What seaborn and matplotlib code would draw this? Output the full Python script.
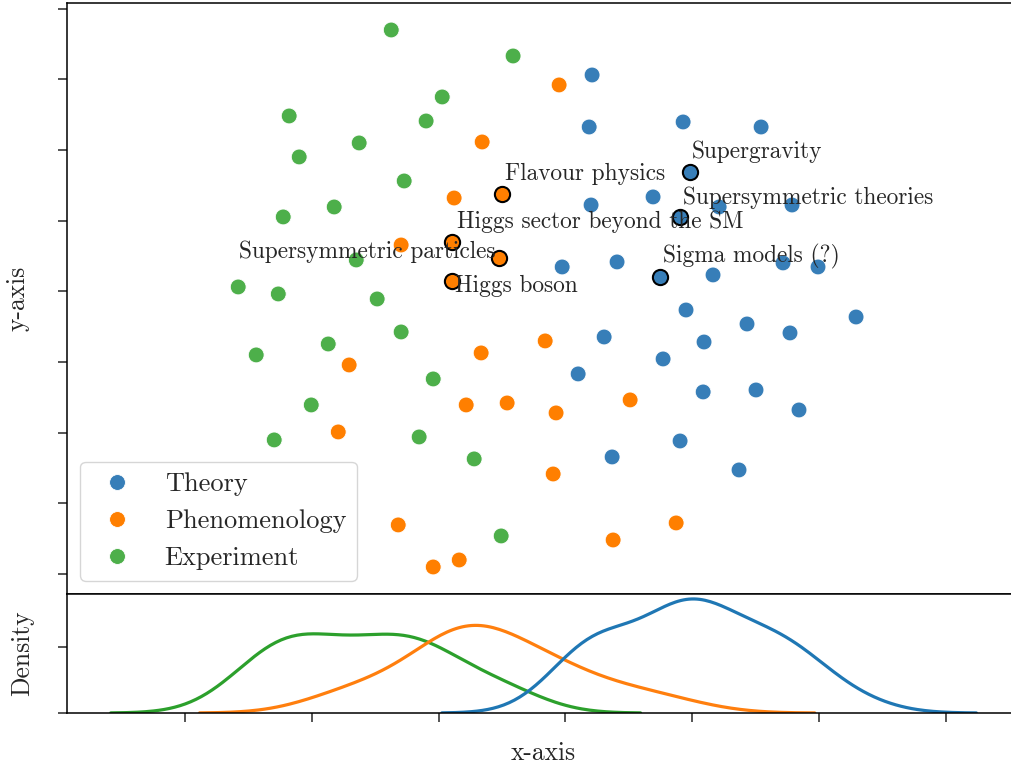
import numpy as np
import pandas as pd
import matplotlib.pyplot as plt
import seaborn as sns

# categories and point positions
categories = ["Theory", "Phenomenology", "Experiment"]

theory_x = [0.211, 0.188, 0.929, 1.544, 0.984, 0.692, 0.203, 1.213, 1.788, 0.905,
            -0.025, 0.408, 0.747, 1.165, 1.717, 1.993, 0.952, 1.433, 2.293, 0.306,
            1.094, 1.772, 0.771, 0.101, 1.087, 1.504, 1.843, 0.905, 0.369, 1.370]
theory_y = [3.061, 2.325, 2.396, 2.325, 1.688, 1.335, 1.221, 1.193, 1.221, 1.052,
            0.344, 0.415, 0.202, 0.231, 0.401, 0.344, -0.265, -0.463, -0.364, -0.647,
            -0.718, -0.590, -0.958, -1.170, -1.425, -1.397, -1.680, -2.119, -2.345, -2.529]

pheno_x = [-0.049, -0.656, -0.877, -1.295, -0.498, -0.893, -0.522, -0.893, -0.159, -0.664,
           -1.705, -0.782, -0.459, -0.073, 0.511, -1.791, -0.096, -1.318, 0.874, 0.377,
           -0.837, -1.042]
pheno_y = [2.920, 2.113, 1.320, 0.655, 1.377, 0.698, 0.471, 0.146, -0.703, -0.873,
           -1.043, -1.609, -1.581, -1.722, -1.538, -1.991, -2.586, -3.307, -3.279, -3.520,
           -3.803, -3.902]

exp_x = [-1.373, -0.412, -0.971, -2.178, -1.098, -1.626, -2.099, -1.271, -1.823, -2.225,
         -1.649, -2.580, -2.264, -1.484, -1.295, -1.870, -2.438, -1.042, -2.004, -1.153,
         -2.296, -0.719, -0.506]
exp_y = [3.698, 3.330, 2.750, 2.481, 2.410, 2.099, 1.901, 1.561, 1.193, 1.052,
         0.443, 0.061, -0.038, -0.109, -0.576, -0.746, -0.901, -1.241, -1.609, -2.062,
         -2.104, -2.373, -3.463]

# annotated topics: label, category, index in that category
ann_labels = ["Supergravity", "Supersymmetric theories", "Sigma models (?)",
              "Flavour physics", "Higgs sector beyond the SM",
              "Supersymmetric particles", "Higgs boson"]
ann_cat = ["Theory", "Theory", "Theory",
           "Phenomenology", "Phenomenology", "Phenomenology", "Phenomenology"]
ann_idx = [4, 9, 12, 4, 5, 6, 7]
ann_offset = [(1.4, 10), (2.2, 9.4), (2.2, 10.8), (2.2, 10), (3.6, 10), (-2.9, 0), (2.2, -7.9)]
ann_ha = ["left", "left", "left", "left", "left", "right", "left"]

df = pd.DataFrame({
    "x": theory_x + pheno_x + exp_x,
    "y": theory_y + pheno_y + exp_y,
    "category": ["Theory"] * len(theory_x) + ["Phenomenology"] * len(pheno_x)
                + ["Experiment"] * len(exp_x),
})

scatter_pal = {"Theory": "#377eb8", "Phenomenology": "#ff7f00", "Experiment": "#4daf4a"}
kde_pal = {"Theory": "#1f77b4", "Phenomenology": "#ff7f0e", "Experiment": "#2ca02c"}

sns.set_style("ticks")
plt.rcParams["font.family"] = "serif"
plt.rcParams["font.serif"] = ["cmr10", "DejaVu Serif"]
plt.rcParams["mathtext.fontset"] = "cm"
plt.rcParams["axes.formatter.use_mathtext"] = True
plt.rcParams["axes.linewidth"] = 1.1
plt.rcParams["axes.edgecolor"] = "black"
plt.rcParams["xtick.major.size"] = 6.5
plt.rcParams["ytick.major.size"] = 6.5
plt.rcParams["xtick.major.width"] = 1.1
plt.rcParams["ytick.major.width"] = 1.1

fig = plt.figure(figsize=(10.11, 7.67), dpi=100)
ax = fig.add_axes([0.0663, 0.2256, 0.9416, 0.7705])
ax2 = fig.add_axes([0.0663, 0.0704, 0.9416, 0.1552], sharex=ax)

sns.scatterplot(data=df, x="x", y="y", hue="category", hue_order=categories,
                palette=scatter_pal, s=130, linewidth=0.6, edgecolor="white", ax=ax)

# highlighted topics
lookup = {"Theory": (theory_x, theory_y), "Phenomenology": (pheno_x, pheno_y)}
for lab, cat, i, off, ha in zip(ann_labels, ann_cat, ann_idx, ann_offset, ann_ha):
    xs, ys = lookup[cat]
    ax.scatter(xs[i], ys[i], s=120, color=scatter_pal[cat], edgecolor="black",
               linewidth=1.5, zorder=3)
    ax.annotate(lab, (xs[i], ys[i]), xytext=off, textcoords="offset points",
                ha=ha, va="baseline", fontsize=16.8, zorder=4)

ax.set_xlim(-3.93, 3.578)
ax.set_ylim(-4.284, 4.08)
ax.set_yticks(np.arange(-4, 5, 1))
ax.set_yticklabels([])
ax.tick_params(axis="x", bottom=False, labelbottom=False)
ax.spines["right"].set_visible(False)
ax.set_xlabel("")
ax.set_ylabel("y-axis", fontsize=18.4, labelpad=17)
ax.legend(loc="lower left", fontsize=19, markerscale=1.0)

sns.kdeplot(data=df, x="x", hue="category", hue_order=categories, palette=kde_pal,
            linewidth=2.3, legend=False, ax=ax2)
peak = max(line.get_ydata().max() for line in ax2.get_lines())
ax2.set_ylim(0, peak * 119 / 114)
ax2.set_yticks([0, peak * 66 / 114])
ax2.set_yticklabels([])
ax2.set_xticks(np.arange(-3, 4, 1))
ax2.set_xticklabels([])
ax2.spines["right"].set_visible(False)
ax2.set_xlabel("x-axis", fontsize=18.4, labelpad=10)
ax2.set_ylabel("Density", fontsize=18.4, labelpad=14)

fig.savefig("out.png", dpi=100)
